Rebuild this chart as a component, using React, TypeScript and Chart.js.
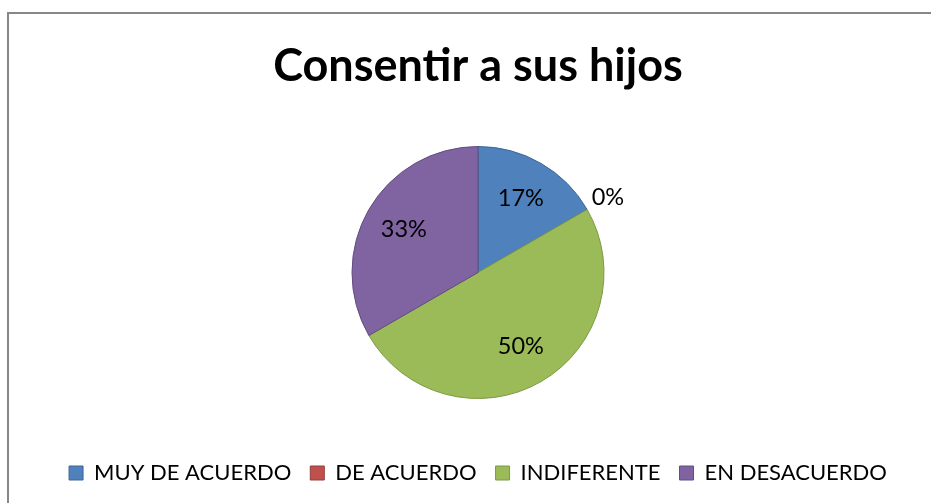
import React, { useEffect, useRef } from "react";
import { Chart, registerables } from "chart.js";

Chart.register(...registerables);

const TITLE = "Consentir a sus hijos";
const CATEGORIES = ["MUY DE ACUERDO", "DE ACUERDO", "INDIFERENTE", "EN DESACUERDO"];
const VALUES = [1, 0, 3, 2];
const COLORS = ["#4F81BD", "#C0504D", "#9BBB59", "#8064A2"];
const EDGE_COLORS = ["#3C6696", "#943C3A", "#7C9A42", "#624C80"];

const FONT = "Lato, 'Open Sans', 'DejaVu Sans', sans-serif";

const frameAndLabels = {
  id: "frameAndLabels",
  beforeDraw(chart: any) {
    const { ctx, width, height } = chart;
    ctx.save();
    ctx.fillStyle = "#ffffff";
    ctx.fillRect(0, 0, width, height);
    ctx.strokeStyle = "#878787";
    ctx.lineWidth = 2;
    ctx.strokeRect(8, 13, width + 20, height + 20);
    ctx.restore();
  },
  afterDatasetsDraw(chart: any) {
    const { ctx } = chart;
    const meta = chart.getDatasetMeta(0);
    const data = chart.data.datasets[0].data as number[];
    const total = data.reduce((a, b) => a + b, 0);
    ctx.save();
    ctx.font = `23.5px ${FONT}`;
    ctx.fillStyle = "#000000";
    ctx.textAlign = "center";
    ctx.textBaseline = "middle";
    meta.data.forEach((arc: any, i: number) => {
      const p = arc.getProps(["x", "y", "startAngle", "endAngle", "outerRadius"], true);
      const mid = (p.startAngle + p.endAngle) / 2;
      const v = data[i];
      const r = v === 0 ? p.outerRadius + 24 : p.outerRadius * 0.68;
      const x = p.x + Math.cos(mid) * r;
      const y = p.y + Math.sin(mid) * r;
      const pct = Math.round((v / total) * 100) + "%";
      ctx.fillText(pct, x, y);
    });
    ctx.restore();
  },
};

export default function App() {
  const ref = useRef<HTMLCanvasElement | null>(null);
  useEffect(() => {
    if (!ref.current) return;
    const chart = new Chart(ref.current, {
      type: "pie",
      data: {
        labels: CATEGORIES,
        datasets: [
          {
            data: VALUES,
            backgroundColor: COLORS,
            borderColor: EDGE_COLORS,
            borderWidth: 1,
            radius: 126,
          } as any,
        ],
      },
      options: {
        responsive: false,
        animation: false,
        layout: { padding: { left: 25, right: 0, top: 0, bottom: 9 } },
        font: { family: FONT } as any,
        plugins: {
          title: {
            display: true,
            text: TITLE,
            color: "#000000",
            font: { family: FONT, size: 45, weight: "bold", lineHeight: 1.2 },
            padding: { top: 39, bottom: 9 },
          },
          legend: {
            display: true,
            position: "bottom",
            labels: {
              color: "#000000",
              font: { family: FONT, size: 22 },
              boxWidth: 14,
              boxHeight: 14,
              padding: 19,
            },
          },
          tooltip: { enabled: false },
        },
      },
      plugins: [frameAndLabels],
    });
    return () => chart.destroy();
  }, []);
  return (
    <div style={{ position: "absolute", left: 0, top: 0, width: 931, height: 503 }}>
      <canvas ref={ref} width={931} height={503} style={{ display: "block" }} />
    </div>
  );
}
